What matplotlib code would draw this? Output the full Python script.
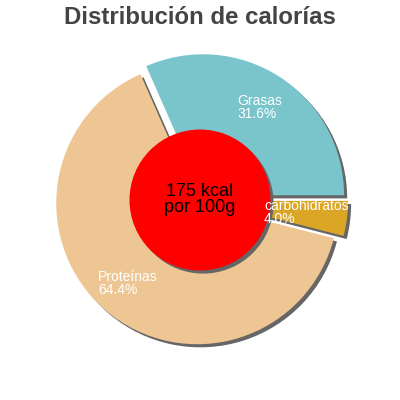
import matplotlib
matplotlib.use('Agg')
import matplotlib.pyplot as plt
from matplotlib.patches import Circle

plt.rcParams['font.family'] = ['Liberation Sans', 'DejaVu Sans']

# data
labels = ['Grasas', 'Proteínas', 'carbohidratos']
percents = [31.6, 64.4, 4.0]
colors = ['#7ac4cc', '#eec693', '#dba626']
kcal = 175
title = 'Distribución de calorías'

# layout (pixels -> data units, pie radius = 141px)
R_PX = 141.0
explode = [0.04, 0.03, 0.05]
shadow_off = (0.022, -0.022)
label_pos = [(0.262, 0.75), (-0.723, -0.495), (0.454, 0.005)]

fig = plt.figure(figsize=(4, 4), dpi=100)
ax = fig.add_axes([0, 0, 1, 1])
lim = 200 / R_PX

# shadow pie first, then the coloured one on top
ax.pie(percents, explode=explode, startangle=0, radius=1.0,
       center=shadow_off, colors=['#666666'] * len(percents),
       wedgeprops={'linewidth': 0}, frame=True)
ax.pie(percents, explode=explode, startangle=0, radius=1.0,
       center=(0, 0), colors=colors,
       wedgeprops={'linewidth': 0}, frame=True)
ax.set_xlim(-lim, lim)
ax.set_ylim(-lim, lim)
ax.set_aspect('equal')
ax.axis('off')

# red centre disc with its own shadow
ax.add_patch(Circle(shadow_off, 0.5, color='#666666', lw=0, zorder=5))
ax.add_patch(Circle((0, 0), 0.5, color='#ff0000', lw=0, zorder=6))
ax.text(0, 0.005, '{0} kcal\npor 100g'.format(kcal), ha='center', va='center',
        fontsize=13, color='black', linespacing=0.95, zorder=7)

for lab, p, (x, y) in zip(labels, percents, label_pos):
    ax.text(x, y, '{0}\n{1:.1f}%'.format(lab, p), color='white',
            fontsize=10, ha='left', va='top', linespacing=0.9, zorder=8)

fig.text(0.5, 0.94, title, ha='center', va='baseline', fontsize=17.3,
         fontweight='bold', color='#444444')

fig.savefig('out.png', dpi=100)
